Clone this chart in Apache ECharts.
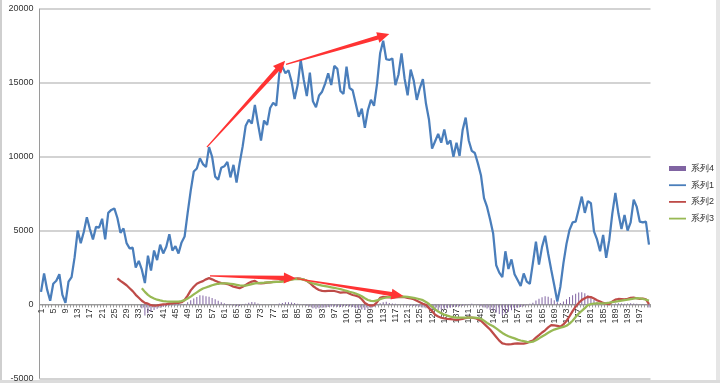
<!DOCTYPE html>
<html><head><meta charset="utf-8">
<script src="https://cdn.jsdelivr.net/npm/echarts@6/dist/echarts.min.js"></script>
<style>html,body{margin:0;padding:0;background:#fff}#c{width:720px;height:383px}</style>
</head><body><div id="c"></div>
<script>
// categories 1..200
const categories = Array.from({length: 200}, (_, i) => String(i + 1));
const yTicks = [-5000, 0, 5000, 10000, 15000, 20000];

// 系列1 (cat 1..200)
const series1 = [
  850,2100,1000,250,1400,1600,2050,650,100,1550,
  1850,3200,5000,4150,4900,5900,5100,4400,5250,5200,
  5800,4400,6200,6400,6500,5850,4850,5150,4150,3800,
  3850,2500,2950,2350,1450,3300,2300,3650,3000,4050,
  3450,3900,4750,3650,3950,3450,4200,4600,6200,7700,
  9000,9200,9900,9500,9300,10650,10000,8650,8450,9250,
  9350,9650,8600,9450,8250,9550,10700,12100,12500,12250,
  13500,12250,11100,12450,12150,13300,13650,13450,15650,16100,
  15650,15850,15100,13900,14850,16550,15200,14100,15700,13750,
  13350,14150,14400,14950,15650,14850,16150,15950,14450,14250,
  16100,14650,14500,13600,12700,13250,11950,13150,13850,13450,
  14950,17000,17850,16600,16550,16650,14850,15550,17000,15300,
  14150,15900,15150,13850,14650,15250,13600,12500,10550,11050,
  11550,10950,11850,10850,11100,10000,10950,10050,11800,12650,
  11100,10400,10250,9550,8750,7200,6600,5750,4800,2650,
  2150,1850,3600,2400,3050,2050,1650,1250,2100,1550,
  1400,2800,4250,2700,3900,4650,3450,2350,1300,200,
  1200,2800,4100,5050,5550,5600,6450,7300,6200,7000,
  6850,4950,4400,3600,4700,3150,4350,6150,7550,6150,
  5100,6050,5000,5550,7100,6600,5600,5550,5600,4050
];

// 系列2 (starts at cat 26)
const series2Start = 26;
const series2 = [
  1770,1600,1450,1300,1100,900,650,450,250,100,
  50,-50,-80,-60,-30,0,20,50,80,100,
  100,150,300,600,950,1200,1400,1500,1580,1700,
  1780,1700,1600,1520,1450,1420,1380,1300,1200,1150,
  1100,1200,1320,1450,1550,1600,1450,1430,1450,1480,
  1500,1520,1530,1540,1580,1620,1660,1700,1740,1770,
  1740,1680,1600,1450,1250,1100,980,920,900,910,
  910,910,860,800,820,820,720,640,600,530,
  350,100,-20,-80,-50,150,450,520,500,470,
  460,480,500,520,500,450,400,350,250,150,
  50,-30,-250,-450,-700,-820,-900,-940,-970,-990,
  -1020,-1050,-1020,-980,-920,-880,-890,-920,-1000,-1100,
  -1300,-1500,-1700,-1950,-2200,-2450,-2630,-2680,-2700,-2680,
  -2650,-2640,-2650,-2650,-2600,-2520,-2450,-2250,-2080,-1900,
  -1750,-1550,-1400,-1420,-1450,-1500,-1350,-1120,-800,-450,
  -150,100,300,420,520,500,400,280,200,100,
  50,20,200,320,370,360,350,380,440,460,
  420,370,400,350,20
];

// 系列3 (starts at cat 34)
const series3Start = 34;
const series3 = [
  1100,850,650,500,400,320,270,230,200,190,
  185,185,190,220,290,400,530,680,820,960,
  1080,1150,1220,1300,1360,1400,1420,1430,1420,1400,
  1370,1330,1290,1270,1280,1320,1380,1430,1450,1460,
  1470,1490,1500,1510,1520,1530,1550,1580,1630,1680,
  1720,1730,1720,1680,1600,1500,1420,1370,1320,1280,
  1240,1200,1160,1120,1080,1040,980,920,860,810,
  740,650,550,420,300,240,230,270,360,420,
  470,510,530,540,540,535,530,510,480,450,
  400,350,290,170,30,-150,-330,-480,-600,-690,
  -760,-820,-860,-890,-900,-900,-890,-890,-890,-890,
  -920,-970,-1100,-1250,-1380,-1480,-1620,-1780,-1930,-2050,
  -2150,-2230,-2300,-2380,-2440,-2480,-2530,-2560,-2520,-2420,
  -2300,-2170,-2050,-1920,-1800,-1700,-1640,-1580,-1520,-1440,
  -1300,-1100,-850,-620,-430,-250,-50,20,60,80,
  80,80,90,120,160,190,220,260,290,320,
  360,390,420,410,370,320,260
];

// 系列4 (starts at cat 34)
const series4Start = 34;
const series4 = [
  -250,-750,-600,-480,-380,-300,-220,-180,-120,-80,
  -60,-50,-60,-40,30,150,280,400,500,620,
  600,560,520,430,350,250,150,80,30,-30,
  -80,-120,-100,-40,40,120,170,150,60,-20,
  -20,-10,10,20,30,60,100,140,150,130,
  90,40,10,-40,-90,-160,-250,-300,-260,-230,
  -200,-180,-160,-140,-150,-180,-120,-100,-140,-180,
  -250,-300,-350,-380,-300,-250,-150,-50,80,150,
  180,100,60,40,20,0,-30,-60,-90,-110,
  -130,-150,-200,-250,-320,-380,-420,-400,-350,-300,
  -250,-220,-180,-150,-120,-90,-50,30,40,10,
  -40,-120,-200,-280,-370,-450,-550,-650,-750,-620,
  -500,-400,-300,-230,-180,-120,-50,40,120,260,
  380,480,560,520,420,280,150,100,200,350,
  500,620,720,800,820,760,620,450,300,180,
  100,40,-20,-60,20,60,80,70,50,60,
  80,70,40,20,30,-20,-200
];

// annotation arrows: [category, value] start and end
const arrowFrom = [[55.3, 10650], [81.2, 16250], [56.3, 1940], [84.8, 1740]];
const arrowTo   = [[80.9, 16490], [115.0, 18300], [84.4, 1770], [119.6, 570]];

function pad(start, arr) {
  return new Array(start - 1).fill(null).concat(arr);
}
const arrowData = arrowFrom.map((f, i) => [f[0], f[1], arrowTo[i][0], arrowTo[i][1]]);

const GRID_TOP = 9, GRID_BOTTOM = 4.7, H = 383;
const plotH = H - GRID_TOP - GRID_BOTTOM;
const yMin = yTicks[0], yMax = yTicks[yTicks.length - 1];
// move the category axis (line, ticks, labels) up to the zero line
const zeroOffset = -plotH * (0 - yMin) / (yMax - yMin);

const FONT = 'Liberation Sans, Arial, sans-serif';
const LINE_ICON = 'path://M0,0M17,5M0,1.6H17V3.4H0Z';
const BAR_ICON = 'path://M0,0H17V5H0Z';
const chart = echarts.init(document.getElementById('c'), null, {renderer: 'canvas'});
chart.setOption({
  animation: false,
  backgroundColor: '#ffffff',
  grid: {left: 39.5, right: 69.5, top: GRID_TOP, bottom: GRID_BOTTOM, containLabel: false, outerBoundsMode: 'none'},
  legend: {
    orient: 'vertical', left: 664, top: 159,
    itemWidth: 17, itemHeight: 5, itemGap: 7.7,
    textStyle: {fontSize: 9, color: '#333', fontFamily: FONT},
    data: [
      {name: '系列4', icon: BAR_ICON},
      {name: '系列1', icon: LINE_ICON},
      {name: '系列2', icon: LINE_ICON},
      {name: '系列3', icon: LINE_ICON}
    ]
  },
  xAxis: [{
    type: 'category', data: categories, boundaryGap: true, position: 'bottom',
    offset: zeroOffset,
    axisLine: {onZero: false, lineStyle: {color: '#9a9a9a', width: 1}},
    axisTick: {show: true, interval: 0, length: 3, lineStyle: {color: '#9a9a9a'}},
    axisLabel: {interval: 3, rotate: 90, fontSize: 9, color: '#333', fontFamily: FONT, margin: 4},
    splitLine: {show: false}
  }, {
    type: 'value', min: 0.5, max: 200.5, show: false
  }],
  yAxis: {
    type: 'value', min: yMin, max: yMax, interval: 5000,
    axisLine: {show: true, onZero: false, lineStyle: {color: '#9a9a9a', width: 1}},
    axisTick: {show: false},
    axisLabel: {fontSize: 9, color: '#333', fontFamily: FONT, margin: 6, formatter: v => String(v)},
    splitLine: {show: true, lineStyle: {color: '#c4c4c4', width: 1.5}}
  },
  series: [
    {
      name: '系列4', type: 'bar', data: pad(series4Start, series4),
      barWidth: 1, itemStyle: {color: '#8064a2'}, z: 1
    },
    {
      name: '系列1', type: 'line', data: series1, symbol: 'none',
      lineStyle: {color: '#4a7ebb', width: 2.25}, itemStyle: {color: '#4a7ebb'}, z: 3
    },
    {
      name: '系列2', type: 'line', data: pad(series2Start, series2), symbol: 'none',
      lineStyle: {color: '#be4b48', width: 2.25}, itemStyle: {color: '#be4b48'}, z: 3
    },
    {
      name: '系列3', type: 'line', data: pad(series3Start, series3), symbol: 'none',
      lineStyle: {color: '#98b954', width: 2.25}, itemStyle: {color: '#98b954'}, z: 3
    },
    {
      type: 'custom', xAxisIndex: 1, yAxisIndex: 0, data: arrowData,
      encode: {x: [0, 2], y: [1, 3]}, z: 10, silent: true,
      renderItem: function (params, api) {
        const p1 = api.coord([api.value(0), api.value(1)]);
        const p2 = api.coord([api.value(2), api.value(3)]);
        const dx = p2[0] - p1[0], dy = p2[1] - p1[1];
        const L = Math.hypot(dx, dy);
        const ux = dx / L, uy = dy / L, nx = -uy, ny = ux;
        const headLen = 12, headHalf = 5.5, w0 = 0.6, w1 = 2.2;
        const bx = p2[0] - ux * headLen, by = p2[1] - uy * headLen;
        const pts = [
          [p1[0] + nx * w0, p1[1] + ny * w0],
          [bx + nx * w1, by + ny * w1],
          [bx + nx * headHalf, by + ny * headHalf],
          [p2[0], p2[1]],
          [bx - nx * headHalf, by - ny * headHalf],
          [bx - nx * w1, by - ny * w1],
          [p1[0] - nx * w0, p1[1] - ny * w0]
        ];
        return {type: 'polygon', shape: {points: pts}, style: {fill: '#ff3333'}};
      }
    }
  ],
  graphic: [
    {type: 'rect', left: 0, top: 0, shape: {width: 2, height: 383}, style: {fill: '#cfcfcf'}, silent: true},
    {type: 'rect', left: 716, top: 0, shape: {width: 4, height: 383}, style: {fill: '#e6e6e6'}, silent: true},
    {type: 'rect', left: 0, top: 380, shape: {width: 720, height: 3}, style: {fill: '#dcdcdc'}, silent: true}
  ]
});
</script>
</body></html>
